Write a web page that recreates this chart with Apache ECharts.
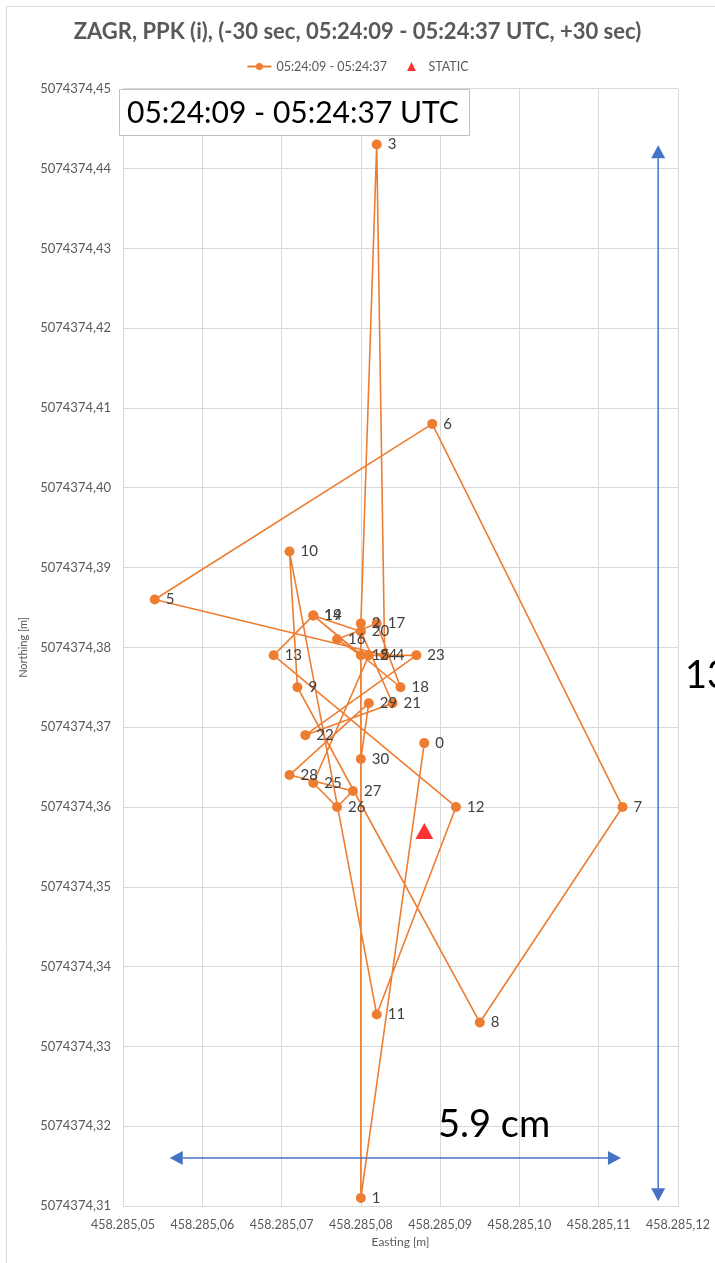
<!DOCTYPE html>
<html>
<head>
<meta charset="utf-8">
<script src="https://cdn.jsdelivr.net/npm/echarts@6/dist/echarts.min.js"></script>
<style>
  html, body { margin: 0; padding: 0; background: #ffffff; }
  #chart { width: 715px; height: 1263px; }
</style>
</head>
<body>
<div id="chart"></div>
<script>
// PPK epoch positions 0..30 (05:24:09 - 05:24:37 UTC), metres
const easting = [
  458285.088, 458285.080, 458285.080, 458285.082, 458285.083, 458285.054,
  458285.089, 458285.113, 458285.095, 458285.072, 458285.071, 458285.082,
  458285.092, 458285.069, 458285.074, 458285.080, 458285.077, 458285.082,
  458285.085, 458285.074, 458285.080, 458285.084, 458285.073, 458285.087,
  458285.081, 458285.074, 458285.077, 458285.079, 458285.071, 458285.081,
  458285.080
];
const northing = [
  5074374.368, 5074374.311, 5074374.383, 5074374.443, 5074374.379, 5074374.386,
  5074374.408, 5074374.360, 5074374.333, 5074374.375, 5074374.392, 5074374.334,
  5074374.360, 5074374.379, 5074374.384, 5074374.379, 5074374.381, 5074374.383,
  5074374.375, 5074374.384, 5074374.382, 5074374.373, 5074374.369, 5074374.379,
  5074374.379, 5074374.363, 5074374.360, 5074374.362, 5074374.364, 5074374.373,
  5074374.366
];
// static reference solution
const staticEasting = [458285.088];
const staticNorthing = [5074374.357];

// axis ranges and tick step (m)
const eastingAxis = { min: 458285.05, max: 458285.12, step: 0.01 };
const northingAxis = { min: 5074374.31, max: 5074374.45, step: 0.01 };

// span annotations (data coordinates)
const widthSpan = { label: '5.9 cm', from: 458285.0559, to: 458285.1128, at: 5074374.316 };
const heightSpan = { label: '13.2 cm', from: 5074374.3106, to: 5074374.4429, at: 458285.1175 };

const seriesName = '05:24:09 - 05:24:37';
const staticName = 'STATIC';
const titleText = 'ZAGR, PPK (i), (-30 sec, 05:24:09 - 05:24:37 UTC, +30 sec)';
const boxText = '05:24:09 - 05:24:37 UTC';

const FONT = 'Lato, "Noto Sans", sans-serif';
const ORANGE = '#ED7D31';
const BLUE = '#4472C4';
const GREY_TXT = '#595959';

function fmtEasting(v) {
  const s = v.toFixed(2).split('.');
  return s[0].replace(/\B(?=(\d{3})+(?!\d))/g, '.') + ',' + s[1];
}
function fmtNorthing(v) {
  return v.toFixed(2).replace('.', ',');
}

const track = easting.map((e, i) => [e, northing[i]]);
const statics = staticEasting.map((e, i) => [e, staticNorthing[i]]);

const chart = echarts.init(document.getElementById('chart'), null, { renderer: 'canvas' });

chart.setOption({
  animation: false,
  backgroundColor: '#ffffff',
  textStyle: { fontFamily: FONT },
  title: {
    text: titleText,
    left: 'center',
    top: 16,
    textStyle: { fontFamily: FONT, fontSize: 22, fontWeight: 'bold', color: GREY_TXT }
  },
  legend: {
    top: 55,
    left: 'center',
    itemGap: 20,
    itemWidth: 24,
    itemHeight: 9,
    symbolKeepAspect: true,
    textStyle: { fontFamily: FONT, fontSize: 12.5, color: GREY_TXT },
    data: [
      { name: seriesName },
      { name: staticName, icon: 'path://M5,0 L10,10 L0,10 Z', itemStyle: { color: '#FF0000' } }
    ]
  },
  grid: { left: 123, right: 37, top: 88.7, bottom: 57, containLabel: false },
  xAxis: {
    type: 'value',
    min: eastingAxis.min,
    max: eastingAxis.max,
    interval: eastingAxis.step,
    name: 'Easting [m]',
    nameLocation: 'middle',
    nameGap: 30,
    nameTextStyle: { fontFamily: FONT, fontSize: 12, color: GREY_TXT },
    axisLine: { show: true, lineStyle: { color: '#D9D9D9' } },
    axisTick: { show: false },
    axisLabel: { formatter: fmtEasting, fontFamily: FONT, fontSize: 12.5, color: GREY_TXT, margin: 12 },
    splitLine: { show: true, lineStyle: { color: '#D9D9D9', width: 1 } }
  },
  yAxis: {
    type: 'value',
    min: northingAxis.min,
    max: northingAxis.max,
    interval: northingAxis.step,
    name: 'Northing [m]',
    nameLocation: 'middle',
    nameGap: 86,
    nameRotate: 90,
    nameTextStyle: { fontFamily: FONT, fontSize: 11, color: GREY_TXT },
    axisLine: { show: true, lineStyle: { color: '#D9D9D9' } },
    axisTick: { show: false },
    axisLabel: { formatter: fmtNorthing, fontFamily: FONT, fontSize: 13, color: GREY_TXT, margin: 12 },
    splitLine: { show: true, lineStyle: { color: '#D9D9D9', width: 1 } }
  },
  series: [
    {
      name: seriesName,
      type: 'line',
      data: track,
      symbol: 'circle',
      symbolSize: 10,
      showAllSymbol: true,
      itemStyle: { color: ORANGE },
      lineStyle: { color: ORANGE, width: 1.6 },
      label: {
        show: true,
        position: 'right',
        distance: 6,
        formatter: p => String(p.dataIndex),
        fontFamily: FONT,
        fontSize: 15,
        color: '#404040'
      },
      labelLayout: { hideOverlap: false },
      z: 3
    },
    {
      name: staticName,
      type: 'scatter',
      data: statics,
      symbol: 'triangle',
      symbolSize: [18, 16],
      itemStyle: { color: '#FF0000' },
      z: 4
    }
  ]
});

function drawAnnotations() {
  const toPx = (x, y) => chart.convertToPixel({ gridIndex: 0 }, [x, y]);
  const hL = toPx(widthSpan.from, widthSpan.at);
  const hR = toPx(widthSpan.to, widthSpan.at);
  const vT = toPx(heightSpan.at, heightSpan.to);
  const vB = toPx(heightSpan.at, heightSpan.from);
  const head = 13, half = 7;
  const style = { stroke: BLUE, lineWidth: 1.5 };
  const fill = { fill: BLUE };
  chart.setOption({
    graphic: [
      // chart area outline
      { type: 'rect', silent: true, shape: { x: 6.5, y: 6.5, width: 900, height: 1400 },
        style: { fill: null, stroke: '#D9D9D9', lineWidth: 1 }, z: 0 },
      // time window box
      { type: 'rect', silent: true, shape: { x: 119.5, y: 89.5, width: 350, height: 46 },
        style: { fill: '#ffffff', stroke: '#BFBFBF', lineWidth: 1 }, z: 100 },
      { type: 'text', silent: true, x: 127, y: 113, z: 101,
        style: { text: boxText, fontFamily: FONT, fontSize: 30, fill: '#000000', textVerticalAlign: 'middle' } },
      // horizontal span arrow
      { type: 'line', silent: true, z: 50, shape: { x1: hL[0] + head, y1: hL[1], x2: hR[0] - head, y2: hR[1] }, style },
      { type: 'polygon', silent: true, z: 50, shape: { points: [[hL[0], hL[1]], [hL[0] + head, hL[1] - half], [hL[0] + head, hL[1] + half]] }, style: fill },
      { type: 'polygon', silent: true, z: 50, shape: { points: [[hR[0], hR[1]], [hR[0] - head, hR[1] - half], [hR[0] - head, hR[1] + half]] }, style: fill },
      // vertical span arrow
      { type: 'line', silent: true, z: 50, shape: { x1: vT[0], y1: vT[1] + head, x2: vB[0], y2: vB[1] - head }, style },
      { type: 'polygon', silent: true, z: 50, shape: { points: [[vT[0], vT[1]], [vT[0] - half, vT[1] + head], [vT[0] + half, vT[1] + head]] }, style: fill },
      { type: 'polygon', silent: true, z: 50, shape: { points: [[vB[0], vB[1]], [vB[0] - half, vB[1] - head], [vB[0] + half, vB[1] - head]] }, style: fill },
      // span labels
      { type: 'text', silent: true, z: 60, x: 438, y: 1125,
        style: { text: widthSpan.label, fontFamily: FONT, fontSize: 38, fill: '#000000', textVerticalAlign: 'middle' } },
      { type: 'text', silent: true, z: 60, x: 685, y: 676,
        style: { text: heightSpan.label, fontFamily: FONT, fontSize: 38, fill: '#000000', textVerticalAlign: 'middle' } }
    ]
  });
}
drawAnnotations();
</script>
</body>
</html>
